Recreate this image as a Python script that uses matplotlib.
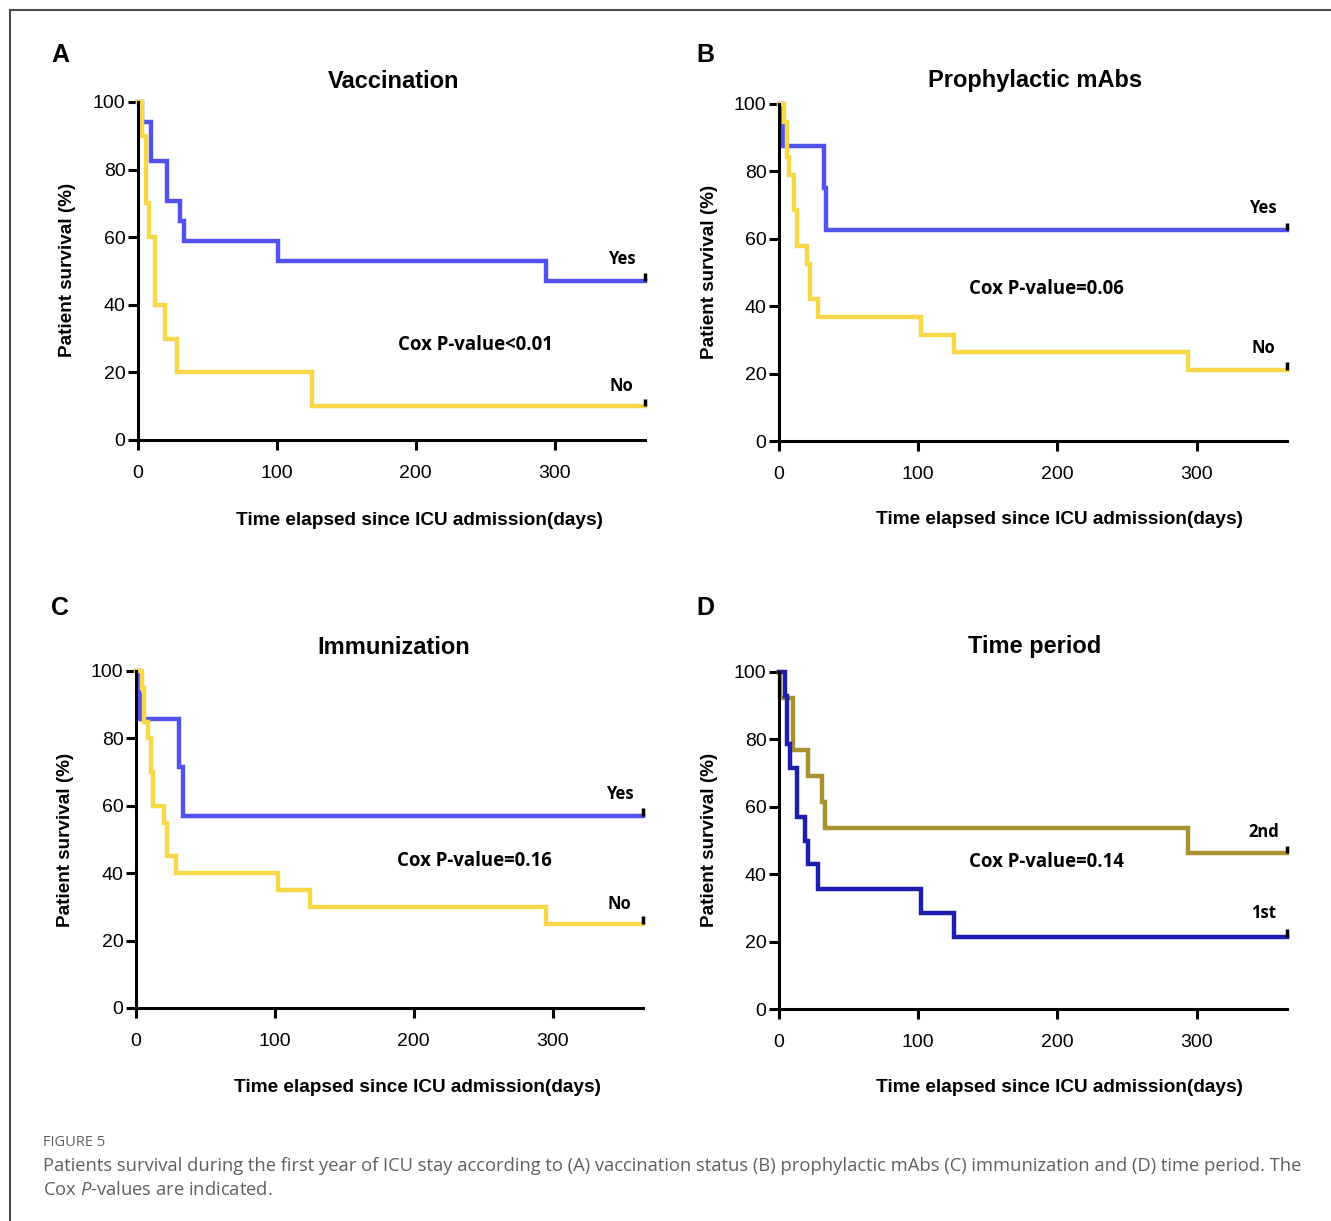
import matplotlib
matplotlib.use("Agg")
import matplotlib.pyplot as plt
from matplotlib.lines import Line2D

plt.rcParams['font.family'] = ['Liberation Sans', 'DejaVu Sans']
plt.rcParams['mathtext.fontset'] = 'custom'
plt.rcParams['mathtext.rm'] = 'Open Sans'
plt.rcParams['mathtext.it'] = 'Open Sans:italic'

# =========================
# Data
# =========================
# A - Vaccination
vacc_yes_t = [0, 3, 9, 21, 30, 33, 101, 294, 365]
vacc_yes_s = [100, 94.1, 82.4, 70.6, 64.7, 58.8, 52.9, 47.1, 47.1]
vacc_no_t = [0, 2.9, 5.8, 7.7, 12.5, 19.7, 28, 125, 365]
vacc_no_s = [100, 90, 70, 60, 40, 30, 20, 10, 10]

# B - Prophylactic mAbs
mabs_yes_t = [0, 2, 3, 32, 34, 365]
mabs_yes_s = [100, 93.75, 87.5, 75, 62.5, 62.5]
mabs_no_t = [0, 3.6, 6, 7.2, 10.8, 13.2, 19.9, 22.2, 28.2, 102, 126, 294, 365]
mabs_no_s = [100, 94.7, 84.2, 78.9, 68.4, 57.9, 52.6, 42.1, 36.8, 31.6, 26.3, 21.1, 21.1]

# C - Immunization
imm_yes_t = [0, 2, 3, 31, 34, 365]
imm_yes_s = [100, 92.9, 85.7, 71.4, 57.1, 57.1]
imm_no_t = [0, 4, 6, 8.5, 11, 12.5, 20, 22, 29, 102, 125, 295, 365]
imm_no_s = [100, 95, 85, 80, 70, 60, 55, 45, 40, 35, 30, 25, 25]

# D - Time period
per2_t = [0, 1, 10, 21, 31, 33, 294, 365]
per2_s = [100, 92.3, 76.9, 69.2, 61.5, 53.8, 46.2, 46.2]
per1_t = [0, 4, 6, 8, 13, 19, 21, 28, 102, 126, 365]
per1_s = [100, 92.9, 78.6, 71.4, 57.1, 50, 42.9, 35.7, 28.6, 21.4, 21.4]

xticks = [0, 100, 200, 300]
yticks = [0, 20, 40, 60, 80, 100]

BLUE = "#5252EE"
YELLOW = "#F6D848"
GOLD = "#A8912E"
NAVY = "#1E1EAE"

W, H = 1331, 1221
fig = plt.figure(figsize=(W / 100, H / 100), dpi=100)


def px_axes(x0, x1, ytop, ybot):
    return fig.add_axes([x0 / W, 1 - ybot / H, (x1 - x0) / W, (ybot - ytop) / H])


# panel specs: axes box, title, letter, curves, labels, cox text
panels = [
    dict(box=(138, 645, 102, 440), title="Vaccination", letter="A",
         letter_xy=(60, 55), title_xy=(394, 81), xlab_xy=(420, 521), ylab_xy=(68, 270),
         curves=[(vacc_yes_t, vacc_yes_s, BLUE), (vacc_no_t, vacc_no_s, YELLOW)],
         labels=[("Yes", 53.5), ("No", 16)], cox=("Cox P-value<0.01", 243, 28)),
    dict(box=(779, 1287, 104, 441), title="Prophylactic mAbs", letter="B",
         letter_xy=(705, 55), title_xy=(1035, 81), xlab_xy=(1060, 519), ylab_xy=(709, 272),
         curves=[(mabs_yes_t, mabs_yes_s, BLUE), (mabs_no_t, mabs_no_s, YELLOW)],
         labels=[("Yes", 69), ("No", 27.5)], cox=("Cox P-value=0.06", 192, 45)),
    dict(box=(136, 643, 671, 1008), title="Immunization", letter="C",
         letter_xy=(60, 608), title_xy=(394, 647), xlab_xy=(417, 1088), ylab_xy=(66, 840),
         curves=[(imm_yes_t, imm_yes_s, BLUE), (imm_no_t, imm_no_s, YELLOW)],
         labels=[("Yes", 63.5), ("No", 31)], cox=("Cox P-value=0.16", 244, 43.5)),
    dict(box=(779, 1287, 672, 1009), title="Time period", letter="D",
         letter_xy=(705, 608), title_xy=(1035, 647), xlab_xy=(1060, 1088), ylab_xy=(709, 840),
         curves=[(per2_t, per2_s, GOLD), (per1_t, per1_s, NAVY)],
         labels=[("2nd", 52.5), ("1st", 28.5)], cox=("Cox P-value=0.14", 192, 43.5)),
]

for p in panels:
    ax = px_axes(*p["box"])
    for t, s, c in p["curves"]:
        ax.step(t, s, where="post", color=c, lw=3.2, clip_on=False, solid_joinstyle="miter")
        # censor mark at the end of follow-up
        ax.plot([t[-1], t[-1]], [s[-1], s[-1] + 2.2], color="black", lw=2.5,
                clip_on=False, solid_capstyle="butt")
    ax.set_xlim(0, 365)
    ax.set_ylim(0, 100)
    ax.set_xticks(xticks)
    ax.set_yticks(yticks)
    for side in ("top", "right"):
        ax.spines[side].set_visible(False)
    for side in ("left", "bottom"):
        ax.spines[side].set_linewidth(2.2)
    ax.tick_params(axis="both", direction="out", length=7, width=2.2, labelsize=14)
    ax.tick_params(axis="y", pad=2)
    ax.tick_params(axis="x", pad=11)
    for (lab, yv) in p["labels"]:
        ax.text(348, yv, lab, ha="center", va="center", fontsize=12, fontweight="bold",
                family=["Open Sans", "DejaVu Sans"])
    ctext, cx, cy = p["cox"]
    ax.text(cx, cy, ctext, ha="center", va="center", fontsize=13.4, fontweight="bold",
            family=["Open Sans", "DejaVu Sans"])

    fig.text(p["title_xy"][0] / W, 1 - p["title_xy"][1] / H, p["title"], ha="center",
             va="center", fontsize=17, fontweight="bold")
    fig.text(p["letter_xy"][0] / W, 1 - p["letter_xy"][1] / H, p["letter"], ha="center",
             va="center", fontsize=18, fontweight="bold")
    fig.text(p["xlab_xy"][0] / W, 1 - p["xlab_xy"][1] / H,
             "Time elapsed since ICU admission(days)", ha="center", va="center",
             fontsize=13.7, fontweight="bold")
    fig.text(p["ylab_xy"][0] / W, 1 - p["ylab_xy"][1] / H, "Patient survival (%)",
             ha="center", va="center", rotation=90, fontsize=13.6, fontweight="bold")

# Caption
fig.text(43 / W, 1 - 1142 / H, "FIGURE 5", ha="left", va="center", fontsize=10.5,
         color="#606060", family=["Open Sans", "DejaVu Sans"])
fig.text(43 / W, 1 - 1166 / H,
         "Patients survival during the first year of ICU stay according to (A) vaccination status "
         "(B) prophylactic mAbs (C) immunization and (D) time period. The",
         ha="left", va="center", fontsize=13.25, color="#606060", family=["Open Sans", "DejaVu Sans"])
fig.text(43 / W, 1 - 1190 / H, r"Cox $P$-values are indicated.",
         ha="left", va="center", fontsize=13.25, color="#606060", family=["Open Sans", "DejaVu Sans"])

# border lines (top and left)
fig.add_artist(Line2D([10 / W, 10 / W], [0, 1 - 10 / H], transform=fig.transFigure,
                      color="#4a4a4a", lw=1.5))
fig.add_artist(Line2D([10 / W, 1], [1 - 10 / H, 1 - 10 / H], transform=fig.transFigure,
                      color="#4a4a4a", lw=1.5))

fig.savefig("out.png", dpi=100)
